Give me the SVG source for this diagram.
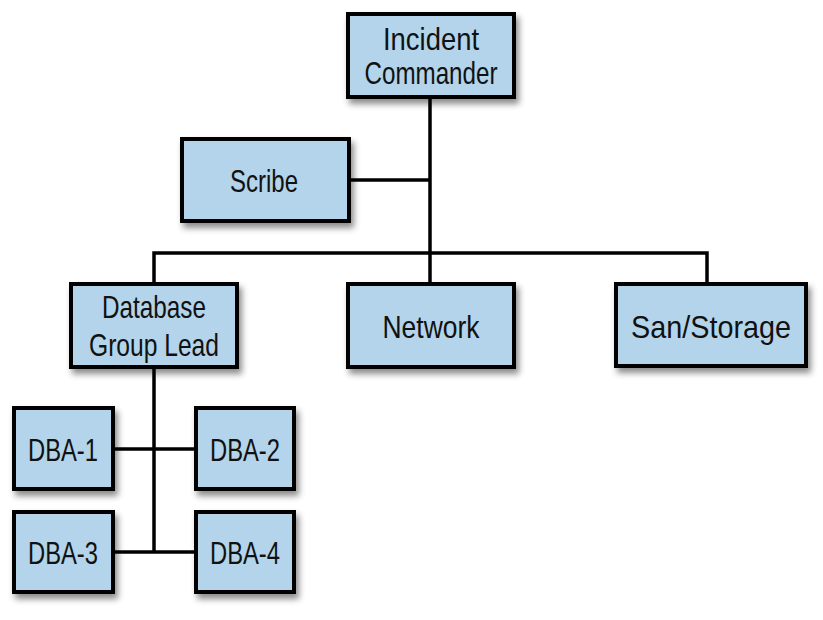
<svg xmlns="http://www.w3.org/2000/svg" width="823" height="620" viewBox="0 0 823 620">
<style>
.box{fill:#b3d4ea;stroke:#000;stroke-width:4;filter:url(#sh)}
.lbl{font-family:"Liberation Sans",Arial,sans-serif;font-size:32px;fill:#111;text-anchor:middle}
.ln{stroke:#000;stroke-width:3.5;fill:none}
</style>
<defs>
<filter id="sh" x="-20%" y="-20%" width="140%" height="150%">
<feDropShadow dx="3" dy="5" stdDeviation="3" flood-color="#000" flood-opacity="0.45"/>
</filter>
</defs>
<g id="connectors">
<path class="ln" d="M430 97 V253"/>
<path class="ln" d="M350 180 H430"/>
<path class="ln" d="M154 283 V253 H707 V282"/>
<path class="ln" d="M430 253 V283"/>
<path class="ln" d="M154 368 V552"/>
<path class="ln" d="M114 449 H195"/>
<path class="ln" d="M114 552 H195"/>
</g>
<g id="incident-commander">
<rect class="box" x="348" y="14" width="166" height="83"/>
<text class="lbl" x="431" y="50" textLength="96" lengthAdjust="spacingAndGlyphs">Incident</text>
<text class="lbl" x="431" y="84" textLength="133" lengthAdjust="spacingAndGlyphs">Commander</text>
</g>
<g id="scribe">
<rect class="box" x="182" y="139" width="167" height="82"/>
<text class="lbl" x="264" y="192" textLength="68" lengthAdjust="spacingAndGlyphs">Scribe</text>
</g>
<g id="database-group-lead">
<rect class="box" x="71" y="284" width="166" height="83"/>
<text class="lbl" x="154" y="318" textLength="104" lengthAdjust="spacingAndGlyphs">Database</text>
<text class="lbl" x="154" y="356" textLength="130" lengthAdjust="spacingAndGlyphs">Group Lead</text>
</g>
<g id="network">
<rect class="box" x="348" y="284" width="166" height="83"/>
<text class="lbl" x="431" y="338" textLength="97" lengthAdjust="spacingAndGlyphs">Network</text>
</g>
<g id="san-storage">
<rect class="box" x="616" y="284" width="190" height="82"/>
<text class="lbl" x="711" y="338" textLength="160" lengthAdjust="spacingAndGlyphs">San/Storage</text>
</g>
<g id="dba-1">
<rect class="box" x="14" y="408" width="99" height="81"/>
<text class="lbl" x="63" y="461" textLength="70" lengthAdjust="spacingAndGlyphs">DBA-1</text>
</g>
<g id="dba-2">
<rect class="box" x="196" y="408" width="98" height="81"/>
<text class="lbl" x="245" y="461" textLength="70" lengthAdjust="spacingAndGlyphs">DBA-2</text>
</g>
<g id="dba-3">
<rect class="box" x="14" y="512" width="99" height="80"/>
<text class="lbl" x="63" y="564" textLength="70" lengthAdjust="spacingAndGlyphs">DBA-3</text>
</g>
<g id="dba-4">
<rect class="box" x="196" y="512" width="98" height="80"/>
<text class="lbl" x="245" y="564" textLength="70" lengthAdjust="spacingAndGlyphs">DBA-4</text>
</g>
</svg>
